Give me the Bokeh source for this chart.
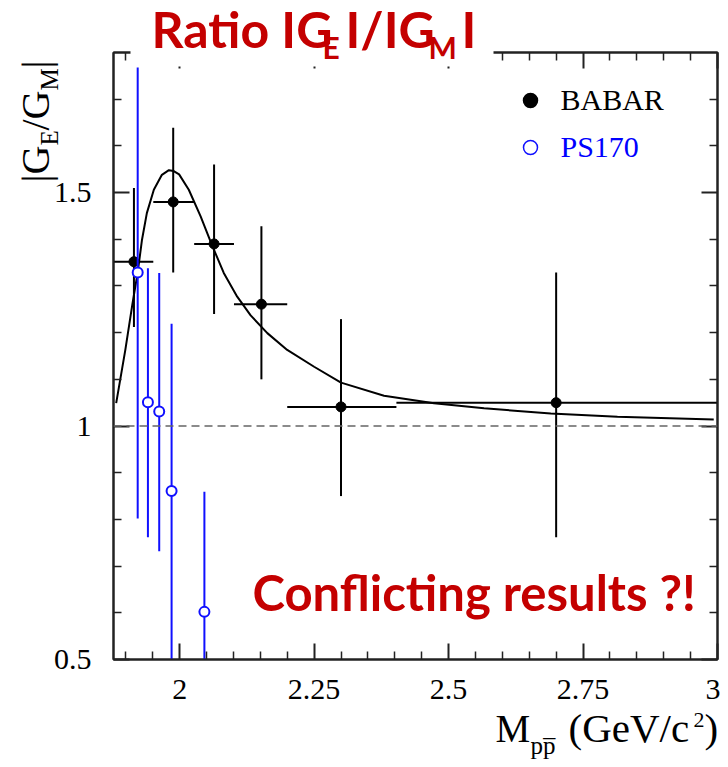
import math
from bokeh.plotting import figure
from bokeh.layouts import column
from bokeh.models import (ColumnDataSource, FixedTicker, LinearAxis, Range1d,
                          Span, Label)
from bokeh.embed import file_html
from bokeh.resources import INLINE

# ---------------- data ----------------
babar_x    = [1.915, 1.988, 2.064, 2.152, 2.300, 2.700]
babar_y    = [1.352, 1.480, 1.390, 1.261, 1.041, 1.050]
babar_x_lo = [1.877, 1.951, 2.027, 2.101, 2.200, 2.403]
babar_x_hi = [1.951, 2.027, 2.101, 2.200, 2.403, 3.000]
babar_y_lo = [1.212, 1.329, 1.240, 1.100, 0.850, 0.762]
babar_y_hi = [1.510, 1.639, 1.560, 1.428, 1.229, 1.329]

ps_x    = [1.922, 1.941, 1.962, 1.985, 2.046]
ps_y    = [1.329, 1.051, 1.031, 0.861, 0.602]
ps_y_lo = [0.802, 0.762, 0.732, 0.400, 0.400]
ps_y_hi = [1.768, 1.338, 1.328, 1.219, 0.859]

fit_x = [1.882, 1.899, 1.912, 1.922, 1.930, 1.939, 1.952, 1.967, 1.980, 1.989,
         1.999, 2.017, 2.039, 2.061, 2.082, 2.107, 2.132, 2.163, 2.200, 2.250,
         2.300, 2.380, 2.473, 2.566, 2.690, 2.814, 2.993]
fit_y = [1.049, 1.163, 1.260, 1.329, 1.399, 1.456, 1.506, 1.538, 1.548, 1.546,
         1.539, 1.506, 1.449, 1.385, 1.328, 1.277, 1.237, 1.199, 1.163, 1.127,
         1.093, 1.065, 1.049, 1.038, 1.027, 1.020, 1.014]

x_major = [2.0, 2.25, 2.5, 2.75, 3.0]
x_major_labels = ["2", "2.25", "2.5", "2.75", "3"]
x_minor = [1.90, 1.95, 2.05, 2.10, 2.15, 2.20, 2.30, 2.35, 2.40, 2.45, 2.55,
           2.60, 2.65, 2.70, 2.80, 2.85, 2.90, 2.95]
y_major = [0.5, 1.0, 1.5]
y_major_labels = ["0.5", "1", "1.5"]
y_minor = [0.6, 0.7, 0.8, 0.9, 1.1, 1.2, 1.3, 1.4, 1.6, 1.7]

legend_names = ["BABAR", "PS170"]
legend_colors = ["black", "blue"]

X_RANGE = (1.877, 3.0)
Y_RANGE = (0.5, 1.8)

W, H = 720, 759
LEFT_B, TOP_B = 113, 52
FRAME_W, FRAME_H = 604, 607

# ---------------- main figure ----------------
p = figure(width=W, height=H, output_backend="svg", toolbar_location=None,
           x_range=Range1d(*X_RANGE), y_range=Range1d(*Y_RANGE),
           min_border_left=LEFT_B, min_border_right=W - LEFT_B - FRAME_W,
           min_border_top=TOP_B, min_border_bottom=H - TOP_B - FRAME_H,
           x_axis_location=None, y_axis_location=None)
p.xgrid.visible = False
p.ygrid.visible = False
p.outline_line_color = "#222222"
p.outline_line_width = 2
p.background_fill_color = "white"
p.border_fill_color = "white"


def pos(px, py):
    """reference-picture pixel -> data coordinates of the main plot"""
    x = X_RANGE[0] + (px - LEFT_B) / FRAME_W * (X_RANGE[1] - X_RANGE[0])
    y = Y_RANGE[1] - (py - TOP_B) / FRAME_H * (Y_RANGE[1] - Y_RANGE[0])
    return x, y


def style_axis(ax, labels, major, minor, show_labels, standoff):
    ax.ticker = FixedTicker(ticks=major, minor_ticks=minor)
    ax.axis_line_color = "#222222"
    ax.axis_line_width = 2
    ax.major_tick_line_color = "#222222"
    ax.minor_tick_line_color = "#222222"
    ax.major_tick_line_width = 2
    ax.minor_tick_line_width = 1.5
    ax.major_tick_in = 16
    ax.major_tick_out = 0
    ax.minor_tick_in = 8
    ax.minor_tick_out = 0
    if show_labels:
        ax.major_label_overrides = {v: s for v, s in zip(major, labels)}
        ax.major_label_text_font = "Liberation Serif"
        ax.major_label_text_font_size = "30px"
        ax.major_label_text_color = "black"
        ax.major_label_standoff = standoff
    else:
        ax.major_label_overrides = {v: "" for v in major}
        ax.major_label_text_color = None
        ax.major_label_standoff = 0


for loc, lab in (("below", True), ("above", False)):
    ax = LinearAxis()
    style_axis(ax, x_major_labels, x_major, x_minor, lab, 20)
    p.add_layout(ax, loc)
for loc, lab in (("left", True), ("right", False)):
    ax = LinearAxis()
    style_axis(ax, y_major_labels, y_major, y_minor, lab, 22)
    p.add_layout(ax, loc)

p.add_layout(Span(location=1.0, dimension="width", line_color="#666666",
                  line_width=1.5, line_dash="8 5"))

p.line(fit_x, fit_y, line_color="black", line_width=2)

bsrc = ColumnDataSource(dict(x=babar_x, y=babar_y, xl=babar_x_lo, xh=babar_x_hi,
                             yl=babar_y_lo, yh=babar_y_hi))
p.segment(x0="xl", y0="y", x1="xh", y1="y", source=bsrc, line_color="black", line_width=2)
p.segment(x0="x", y0="yl", x1="x", y1="yh", source=bsrc, line_color="black", line_width=2)
p.scatter("x", "y", source=bsrc, size=10, marker="circle", fill_color="black",
          line_color="black")

psrc = ColumnDataSource(dict(x=ps_x, y=ps_y, yl=ps_y_lo, yh=ps_y_hi))
p.segment(x0="x", y0="yl", x1="x", y1="yh", source=psrc, line_color="#1010ff", line_width=2)
p.scatter("x", "y", source=psrc, size=10, marker="circle", fill_color="white",
          line_color="#1010ff", line_width=2)

lx, ly1 = pos(530, 100)
_, ly2 = pos(530, 147)
lsrc = ColumnDataSource(dict(x=[lx, lx], y=[ly1, ly2], fc=["black", "white"],
                             lc=["black", "#1010ff"]))
p.scatter("x", "y", source=lsrc, size=14, marker="circle", fill_color="fc",
          line_color="lc", line_width=1.5)

# ---------------- text layer (transparent figure laid over the plot) ----------------
t = figure(width=W, height=H, output_backend="svg", toolbar_location=None,
           x_range=Range1d(0, W), y_range=Range1d(H, 0),
           min_border_left=0, min_border_right=0, min_border_top=0, min_border_bottom=0,
           x_axis_location=None, y_axis_location=None,
           background_fill_color=None, border_fill_color=None, outline_line_color=None,
           margin=(-H, 0, 0, 0))
t.xgrid.visible = False
t.ygrid.visible = False
for fig in (p, t):
    if "frame_align" in fig.properties():
        fig.frame_align = False

SHIFT = 0.375   # Label 'alphabetic' anchor sits this fraction of the size above the drawn baseline


def text(txt, px, py, size, color="black", font="Liberation Serif", bold=False, rot=False):
    s = float(size)
    if rot:
        ax_, ay_ = px - SHIFT * s, py
    else:
        ax_, ay_ = px, py - SHIFT * s
    t.add_layout(Label(x=ax_, y=ay_, text=txt, text_font=font,
                       text_font_style="bold" if bold else "normal",
                       text_font_size=f"{size}px", text_color=color, text_align="left",
                       text_baseline="alphabetic", angle=math.pi / 2 if rot else 0))


# white box behind the title (hides the top frame line, as in the reference)
t.quad(left=[130], right=[493], top=[0], bottom=[66], fill_color="white",
       line_color=None)

RED = "#C40000"
for txt, px, py, sz in (("Ratio IG", 151, 47, 50), ("E", 322, 58, 30),
                        ("I/IG", 345, 47, 50), ("M", 428, 58, 30), ("I", 461, 47, 50)):
    text(txt, px, py, sz, RED, "Lato", True)

text("Conflicting results ?!", 252, 610, 49, RED, "Lato", True)

for name, col, py in zip(legend_names, legend_colors, (110, 157)):
    text(name, 560, py, 30, col)

for txt, px, py, sz in (("|G", 50, 182, 40), ("E", 58, 145, 25), ("/G", 50, 130, 40),
                        ("M", 58, 90, 25), ("|", 50, 68, 40)):
    text(txt, px, py, sz, rot=True)

for txt, px, py, sz in (("M", 495, 743, 39), ("pp\u0305", 530, 754, 25),
                        ("(GeV/c", 568, 743, 41), ("2", 693, 728, 22), (")", 704, 743, 41)):
    text(txt, px, py, sz)

layout = column(p, t)
open("out.html", "w").write(file_html(layout, INLINE))
